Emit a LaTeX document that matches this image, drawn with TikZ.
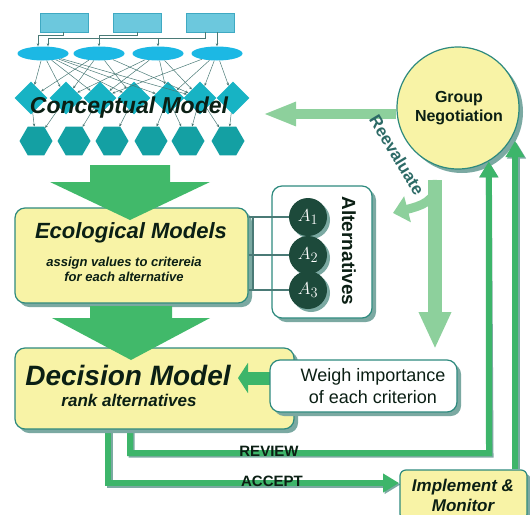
\documentclass[tikz,border=0pt]{standalone}
\usepackage{fontspec}
\setmainfont{Liberation Sans}
\usetikzlibrary{shapes.geometric,shadows,arrows.meta}
\definecolor{rectblue}{HTML}{6CC8DD}
\definecolor{rectline}{HTML}{3FA9C2}
\definecolor{ellblue}{HTML}{1CB8E4}
\definecolor{diateal}{HTML}{17B3C4}
\definecolor{hexteal}{HTML}{14A0A3}
\definecolor{linkgray}{HTML}{4A7A76}
\definecolor{bigarr}{HTML}{41B96A}
\definecolor{darkarr}{HTML}{3DB56A}
\definecolor{lightarr}{HTML}{8DD09C}
\definecolor{paleyel}{HTML}{F8F3A6}
\definecolor{boxline}{HTML}{2E8A7E}
\definecolor{shade}{HTML}{7BA9A2}
\definecolor{ink}{HTML}{0B1F14}
\definecolor{altdark}{HTML}{1D4A3B}
\definecolor{reev}{HTML}{2C6A66}

\begin{document}
\begin{tikzpicture}[x=1pt,y=-1pt]
\useasboundingbox (0,0) rectangle (530,514);
\tikzstyle{srcbox}=[rectangle,draw=rectline,fill=rectblue,minimum width=48pt,minimum height=19pt,inner sep=0pt]
\tikzstyle{factor}=[ellipse,fill=ellblue,minimum width=51pt,minimum height=14pt,inner sep=0pt]
\tikzstyle{indic}=[diamond,aspect=1,fill=diateal,minimum width=33pt,minimum height=33pt,inner sep=0pt]
\tikzstyle{endpt}=[regular polygon,regular polygon sides=6,fill=hexteal,minimum size=33pt,inner sep=0pt]
\tikzstyle{link}=[draw=linkgray,line width=0.5pt,-{Stealth[length=3pt,width=2.5pt]}]
\tikzstyle{panel}=[rectangle,rounded corners=10pt,draw=boxline,line width=1.2pt,inner sep=0pt,drop shadow={shadow xshift=4pt,shadow yshift=-4pt,fill=shade,opacity=1}]
\tikzstyle{alt}=[circle,fill=altdark,minimum size=38pt,inner sep=0pt,text=white,font=\fontsize{19}{19}\selectfont,drop shadow={shadow xshift=3pt,shadow yshift=-3pt,fill=shade,opacity=1}]
\tikzstyle{tie}=[draw=linkgray,line width=1.2pt]
\tikzstyle{flow}=[draw=darkarr,line width=6pt,-{Triangle[width=18pt,length=16pt]}]
\tikzstyle{flowshade}=[draw=shade,line width=6pt,-{Triangle[width=18pt,length=16pt]},xshift=1.5pt,yshift=-1.5pt]
% conceptual model graph
\node[srcbox](r1) at (64,22.5) {};
\node[srcbox](r2) at (137,22.5) {};
\node[srcbox](r3) at (210,22.5) {};
\node[factor](e1) at (43,53.5) {};
\node[factor](e2) at (99,53.5) {};
\node[factor](e3) at (158,53.5) {};
\node[factor](e4) at (217,53.5) {};
\node[indic](d1) at (31,98) {};
\node[indic](d2) at (66,98) {};
\node[indic](d3) at (100,98) {};
\node[indic](d4) at (134,98) {};
\node[indic](d5) at (168,98) {};
\node[indic](d6) at (200,98) {};
\node[indic](d7) at (233,98) {};
\node[endpt](h1) at (36,141) {};
\node[endpt](h2) at (74,141) {};
\node[endpt](h3) at (112,141) {};
\node[endpt](h4) at (151,141) {};
\node[endpt](h5) at (188,141) {};
\node[endpt](h6) at (228,141) {};
\draw[link] (r1.south -| 63,0) |- (38,35) -- (e1.north -| 38,0);
\draw[link] (r3.south -| 205,0) |- (48,38) -- (e1.north -| 48,0);
\draw[link] (r2.south) |- (99,35) -- (e2.north);
\draw[link] (158,38) -- (e3.north);
\draw[link] (r3.south -| 217,0) -- (e4.north);
\path[link]
	(e1) edge (d1) (e1) edge (d2) (e1) edge (d3) (e1) edge (d4) (e1) edge (d5) (e1) edge (d6)
	(e2) edge (d1) (e2) edge (d2) (e2) edge (d4) (e2) edge (d6)
	(e3) edge (d2) (e3) edge (d3) (e3) edge (d5) (e3) edge (d6)
	(e4) edge (d3) (e4) edge (d5) (e4) edge (d6) (e4) edge (d7)
	(d1) edge (h1) (d2) edge (h1) (d3) edge (h2) (d4) edge (h3)
	(d5) edge (h4) (d5) edge (h5) (d6) edge (h5) (d6) edge (h6) (d7) edge (h6);
\node[font=\bfseries\itshape\fontsize{23}{25}\selectfont,text=ink](concept) at (129,108) {Conceptual Model};
% group negotiation
\node[circle,draw=boxline,line width=1.2pt,fill=paleyel,minimum size=122pt,inner sep=0pt,drop shadow={shadow xshift=4pt,shadow yshift=-4pt,fill=shade,opacity=1}](grp) at (458,108) {};
\node[font=\bfseries\fontsize{16}{19}\selectfont,text=ink,align=center](grpt) at (459,108) {Group\\Negotiation};
% right hand loop
\draw[flowshade] (130,420) |- (489,453) -- (grp.-60);
\draw[flowshade] (108,420) |- (399,483);
\draw[flow] (130,420) |- (489,453) -- (grp.-60);
\draw[flow] (108,420) |- (399,483);
\node[font=\bfseries\fontsize{15}{15}\selectfont,text=ink](review) at (269,451) {REVIEW};
\node[font=\bfseries\fontsize{15}{15}\selectfont,text=ink](accept) at (272,481) {ACCEPT};
% boxes
\node[panel,fill=paleyel,minimum width=233pt,minimum height=95pt](eco) at (131.5,255.5) {};
\node[font=\bfseries\itshape\fontsize{22}{24}\selectfont,text=ink](ecot) at (131,233) {Ecological Models};
\node[font=\bfseries\itshape\fontsize{13}{15}\selectfont,text=ink,align=center](ecos) at (124,269.5) {assign values to critereia\\for each alternative};
\fill[bigarr] (90,165) -- (170,165) -- (170,182) -- (210,182) -- (130,220) -- (50,182) -- (90,182) -- cycle;
\node[panel,fill=paleyel,minimum width=279pt,minimum height=81pt](dec) at (154.5,388.5) {};
\node[font=\bfseries\itshape\fontsize{28}{30}\selectfont,text=ink](dect) at (128,375) {Decision Model};
\node[font=\bfseries\itshape\fontsize{17}{19}\selectfont,text=ink](decs) at (129,400) {rank alternatives};
\fill[bigarr] (90,306) -- (172,306) -- (172,318) -- (210,318) -- (131,360) -- (52,318) -- (90,318) -- cycle;
\draw[darkarr,line width=13pt,-{Triangle[width=30pt,length=10pt]}] (272,378) -- (238,378);
\node[panel,fill=white,minimum width=187pt,minimum height=52pt](weigh) at (363.5,386) {};
\node[font=\fontsize{18}{22}\selectfont,text=ink,align=center](weight) at (373,386) {Weigh importance\\of each criterion};
% alternatives
\node[panel,fill=white,minimum width=100pt,minimum height=132pt](altbox) at (322,252) {};
\coordinate (t1) at (308,217);
\coordinate (t2) at (308,255);
\coordinate (t3) at (308,290);
\draw[tie] (eco.east |- t1) -- (t1);
\draw[tie] (eco.east |- t2) -- (t2);
\draw[tie] (eco.east |- t3) -- (t3);
\draw[tie] (253,217) -- (253,290);
\node[alt](a1) at (t1) {$A_1$};
\node[alt](a2) at (t2) {$A_2$};
\node[alt](a3) at (t3) {$A_3$};
\node[rotate=-90,font=\bfseries\fontsize{19}{20}\selectfont,text=ink](altt) at (349,251) {Alternatives};
% reevaluate
\draw[lightarr,line width=10pt,-{Triangle[width=22pt,length=33pt]}] (grp.west |- 0,114) -- (263,114);
\draw[lightarr,line width=14pt,-{Triangle[width=30pt,length=37pt]}] (435,180) -- (435,349);
\draw[lightarr,line width=9pt,-{Triangle[width=26pt,length=15pt]}] (437,180) .. controls (437,202) and (420,206) .. (393,213);
\node[rotate=-59,font=\bfseries\fontsize{17}{17}\selectfont,text=reev](reeval) at (397,155) {Reevaluate};
% implement
\node[panel,rounded corners=6pt,fill=paleyel,minimum width=127pt,minimum height=50pt](impl) at (463.5,495) {};
\node[font=\bfseries\itshape\fontsize{17}{20}\selectfont,text=ink,align=center](implt) at (463,495) {Implement \&\\Monitor};
\draw[flowshade] (impl.north -| 515,0) -- (515,141);
\draw[flow] (impl.north -| 515,0) -- (515,141);
\end{tikzpicture}
\end{document}
